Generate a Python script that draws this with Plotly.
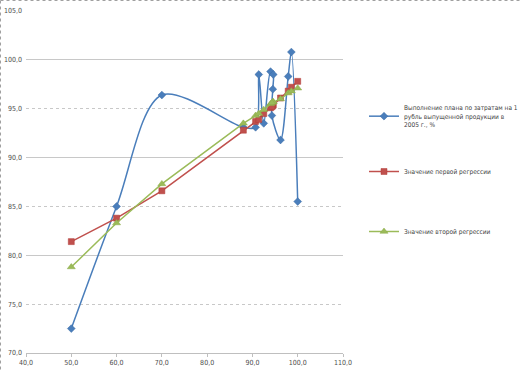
import plotly.graph_objects as go

# Data
x_vals = [50.0, 60.0, 70.0, 88.0, 90.7, 91.4, 92.5, 94.0, 94.6, 94.5, 94.3, 96.2, 97.9, 98.6, 100.0]
actual = [72.5, 85.0, 96.4, 93.1, 93.1, 98.5, 93.5, 98.8, 98.5, 97.0, 94.3, 91.8, 98.3, 100.8, 85.5]
reg1 = [81.4, 83.8, 86.6, 92.8, 93.7, 93.9, 94.5, 95.1, 95.4, 95.3, 95.2, 96.1, 96.8, 97.2, 97.8]
reg2 = [78.8, 83.3, 87.3, 93.5, 94.3, 94.5, 94.9, 95.5, 95.7, 95.7, 95.6, 96.0, 96.6, 96.8, 97.1]

names = [
    "Выполнение плана по затратам на 1<br>рубль выпущенной продукции в<br>2005 г., %",
    "Значение первой регрессии",
    "Значение второй регрессии",
]

FONT = "Liberation Sans Narrow, DejaVu Sans Condensed, Arial Narrow, sans-serif"
BLUE = "#4A7EBB"
RED = "#C0504D"
GREEN = "#9BBB59"

fig = go.Figure()
fig.add_trace(go.Scatter(
    x=x_vals, y=actual, name=names[0], mode="lines+markers",
    line=dict(color=BLUE, width=1.5, shape="spline", smoothing=0.9),
    marker=dict(symbol="diamond", size=6, color=BLUE, line=dict(color="#3A6AA5", width=0.5)),
    legend="legend",
))
fig.add_trace(go.Scatter(
    x=x_vals, y=reg1, name=names[1], mode="lines+markers",
    line=dict(color=RED, width=1.5),
    marker=dict(symbol="square", size=6, color=RED, line=dict(color="#B03A37", width=0.5)),
    legend="legend2",
))
fig.add_trace(go.Scatter(
    x=x_vals, y=reg2, name=names[2], mode="lines+markers",
    line=dict(color=GREEN, width=1.5),
    marker=dict(symbol="triangle-up", size=7, color=GREEN, line=dict(color="#8AAA48", width=0.5)),
    legend="legend3",
))

# invisible trace to host the overlay axis with solid major gridlines
fig.add_trace(go.Scatter(x=[None], y=[None], yaxis="y2", showlegend=False, hoverinfo="skip"))

W, H = 520, 378
L, R, T, B = 26, 177, 11, 25
pw, ph = W - L - R, H - T - B

def px_to_paper(px, py):
    return (px - L) / pw, (H - B - py) / ph

legfont = dict(family=FONT, size=6.5, color="#404040")
legs = {}
for key, py in (("legend", 97), ("legend2", 157), ("legend3", 217)):
    legs[key] = dict(x=364 / W, y=1 - py / H, xref="container", yref="container",
                     xanchor="left", yanchor="top", font=legfont,
                     bgcolor="rgba(0,0,0,0)", itemwidth=30, borderwidth=0)

tickfont = dict(family=FONT, size=7, color="#4D4D4D")

x0, y0 = px_to_paper(0.5, 0.5)
fig.update_layout(
    width=W, height=H,
    margin=dict(l=L, r=R, t=T, b=B, pad=0, autoexpand=False),
    paper_bgcolor="white", plot_bgcolor="white",
    separators=", ",
    font=dict(family=FONT, size=7, color="#4D4D4D"),
    xaxis=dict(range=[40, 110], dtick=10, tick0=40, tickformat=".1f",
               showgrid=False, zeroline=False, showline=True, linecolor="#BFBFBF",
               linewidth=1, ticks="outside", ticklen=3, tickcolor="#BFBFBF",
               tickfont=tickfont),
    yaxis=dict(range=[70, 105], dtick=5, tick0=70, tickformat=".1f",
               showgrid=True, gridcolor="#C8C8C8", griddash="dot", gridwidth=1,
               zeroline=False, showline=False, ticks="", tickfont=tickfont,
               ticklabelstandoff=3),
    yaxis2=dict(range=[70, 105], dtick=10, tick0=70, overlaying="y", side="left",
                showgrid=True, gridcolor="#C8C8C8", gridwidth=1, griddash="solid",
                showticklabels=False, zeroline=False, showline=False, ticks=""),
    legend=legs["legend"], legend2=legs["legend2"], legend3=legs["legend3"],
    showlegend=True,
    shapes=[
        dict(type="line", xref="paper", yref="paper", x0=x0, x1=px_to_paper(W, 0)[0],
             y0=y0, y1=y0, line=dict(color="#A0A0A0", width=1, dash="dot")),
        dict(type="line", xref="paper", yref="paper", x0=x0, x1=x0,
             y0=y0, y1=px_to_paper(0, 372)[1], line=dict(color="#A0A0A0", width=1, dash="dot")),
    ],
)

fig.write_html(
    "out.html",
    config={"displayModeBar": False},
    post_script="document.body.style.margin='0';document.body.style.padding='0';",
)
